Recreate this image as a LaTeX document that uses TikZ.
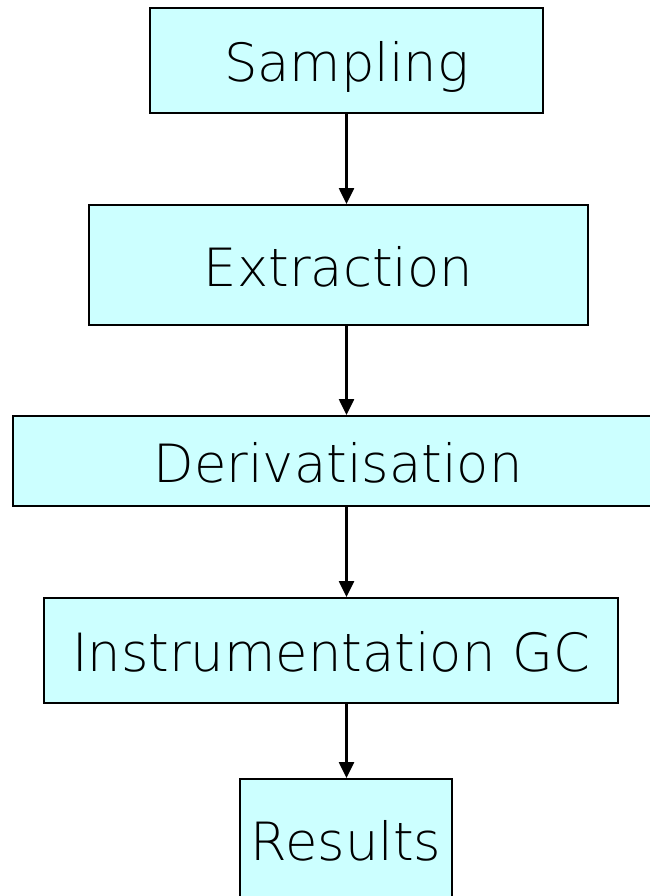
\documentclass[tikz,border=0pt]{standalone}
\usepackage{fontspec}
\setmainfont{DejaVuSans-ExtraLight.ttf}
\usepackage{tikz}
\usetikzlibrary{arrows.meta,positioning,calc}
\definecolor{boxcyan}{HTML}{CCFFFF}

\begin{document}
\begin{tikzpicture}[
  stage/.style={draw, line width=1.1pt, fill=boxcyan, inner sep=0pt, text height=0.84cm, text depth=0pt, font=\fontsize{30}{36}\selectfont},
  arr/.style={-{Triangle[length=0.32cm,width=0.3cm]}, line width=1.4pt}
]
\useasboundingbox (0,0) rectangle (13,-17.92);

\node[stage, minimum width=7.86cm, minimum height=2.10cm] (samp) at (6.93,-1.21) {Sampling};
\node[stage, minimum width=9.98cm, minimum height=2.40cm] (extr) at (6.77,-5.30) {Extraction};
\node[stage, minimum width=13.0cm, minimum height=1.80cm] (deriv) at (6.76,-9.22) {Derivatisation};
\node[stage, minimum width=11.48cm, minimum height=2.10cm] (instr) at (6.62,-13.01) {Instrumentation GC};
\node[stage, minimum width=4.24cm, minimum height=2.40cm] (res) at (6.92,-16.78) {Results};

\draw[arr] (samp.south) -- (samp.south |- extr.north);
\draw[arr] (samp.south |- extr.south) -- (samp.south |- deriv.north);
\draw[arr] (samp.south |- deriv.south) -- (samp.south |- instr.north);
\draw[arr] (samp.south |- instr.south) -- (samp.south |- res.north);

\end{tikzpicture}
\end{document}
